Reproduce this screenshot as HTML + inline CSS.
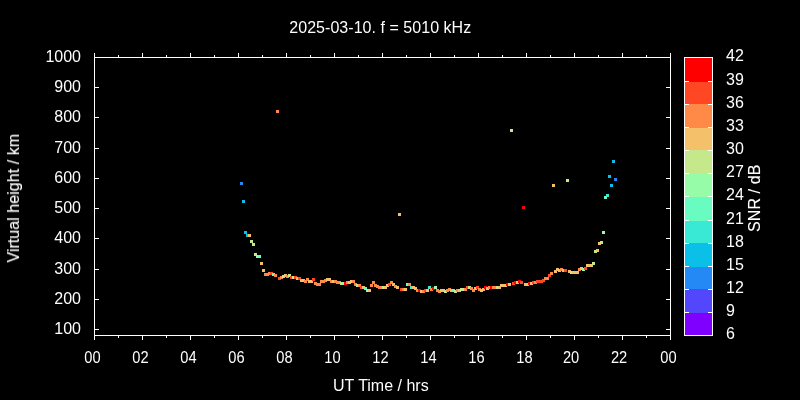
<!DOCTYPE html>
<html><head><meta charset="utf-8"><title>2025-03-10. f = 5010 kHz</title>
<style>
html,body{margin:0;padding:0;background:#000;overflow:hidden}
svg{display:block}
</style></head>
<body>
<svg width="800" height="400" viewBox="0 0 800 400">
<rect x="0" y="0" width="800" height="400" fill="#000"/>
<g shape-rendering="crispEdges"><rect x="94" y="53" width="1" height="287" fill="#fff"/><rect x="670" y="53" width="1" height="287" fill="#fff"/><rect x="94" y="57" width="577" height="1" fill="#fff"/><rect x="94" y="335" width="577" height="1" fill="#fff"/><rect x="118" y="55" width="1" height="2" fill="#fff"/><rect x="118" y="336" width="1" height="2" fill="#fff"/><rect x="142" y="53" width="1" height="4" fill="#fff"/><rect x="142" y="336" width="1" height="4" fill="#fff"/><rect x="166" y="55" width="1" height="2" fill="#fff"/><rect x="166" y="336" width="1" height="2" fill="#fff"/><rect x="190" y="53" width="1" height="4" fill="#fff"/><rect x="190" y="336" width="1" height="4" fill="#fff"/><rect x="214" y="55" width="1" height="2" fill="#fff"/><rect x="214" y="336" width="1" height="2" fill="#fff"/><rect x="238" y="53" width="1" height="4" fill="#fff"/><rect x="238" y="336" width="1" height="4" fill="#fff"/><rect x="262" y="55" width="1" height="2" fill="#fff"/><rect x="262" y="336" width="1" height="2" fill="#fff"/><rect x="286" y="53" width="1" height="4" fill="#fff"/><rect x="286" y="336" width="1" height="4" fill="#fff"/><rect x="310" y="55" width="1" height="2" fill="#fff"/><rect x="310" y="336" width="1" height="2" fill="#fff"/><rect x="334" y="53" width="1" height="4" fill="#fff"/><rect x="334" y="336" width="1" height="4" fill="#fff"/><rect x="358" y="55" width="1" height="2" fill="#fff"/><rect x="358" y="336" width="1" height="2" fill="#fff"/><rect x="382" y="53" width="1" height="4" fill="#fff"/><rect x="382" y="336" width="1" height="4" fill="#fff"/><rect x="406" y="55" width="1" height="2" fill="#fff"/><rect x="406" y="336" width="1" height="2" fill="#fff"/><rect x="430" y="53" width="1" height="4" fill="#fff"/><rect x="430" y="336" width="1" height="4" fill="#fff"/><rect x="454" y="55" width="1" height="2" fill="#fff"/><rect x="454" y="336" width="1" height="2" fill="#fff"/><rect x="478" y="53" width="1" height="4" fill="#fff"/><rect x="478" y="336" width="1" height="4" fill="#fff"/><rect x="502" y="55" width="1" height="2" fill="#fff"/><rect x="502" y="336" width="1" height="2" fill="#fff"/><rect x="526" y="53" width="1" height="4" fill="#fff"/><rect x="526" y="336" width="1" height="4" fill="#fff"/><rect x="550" y="55" width="1" height="2" fill="#fff"/><rect x="550" y="336" width="1" height="2" fill="#fff"/><rect x="574" y="53" width="1" height="4" fill="#fff"/><rect x="574" y="336" width="1" height="4" fill="#fff"/><rect x="598" y="55" width="1" height="2" fill="#fff"/><rect x="598" y="336" width="1" height="2" fill="#fff"/><rect x="622" y="53" width="1" height="4" fill="#fff"/><rect x="622" y="336" width="1" height="4" fill="#fff"/><rect x="646" y="55" width="1" height="2" fill="#fff"/><rect x="646" y="336" width="1" height="2" fill="#fff"/><rect x="95" y="329" width="4" height="1" fill="#fff"/><rect x="666" y="329" width="4" height="1" fill="#fff"/><rect x="95" y="299" width="4" height="1" fill="#fff"/><rect x="666" y="299" width="4" height="1" fill="#fff"/><rect x="95" y="269" width="4" height="1" fill="#fff"/><rect x="666" y="269" width="4" height="1" fill="#fff"/><rect x="95" y="238" width="4" height="1" fill="#fff"/><rect x="666" y="238" width="4" height="1" fill="#fff"/><rect x="95" y="208" width="4" height="1" fill="#fff"/><rect x="666" y="208" width="4" height="1" fill="#fff"/><rect x="95" y="178" width="4" height="1" fill="#fff"/><rect x="666" y="178" width="4" height="1" fill="#fff"/><rect x="95" y="148" width="4" height="1" fill="#fff"/><rect x="666" y="148" width="4" height="1" fill="#fff"/><rect x="95" y="117" width="4" height="1" fill="#fff"/><rect x="666" y="117" width="4" height="1" fill="#fff"/><rect x="95" y="87" width="4" height="1" fill="#fff"/><rect x="666" y="87" width="4" height="1" fill="#fff"/></g>
<g shape-rendering="crispEdges"><rect x="684" y="313" width="29" height="22" fill="#8000ff"/><rect x="684" y="289" width="29" height="24" fill="#5247fc"/><rect x="684" y="267" width="29" height="22" fill="#2489f5"/><rect x="684" y="243" width="29" height="24" fill="#0ac0e8"/><rect x="684" y="221" width="29" height="22" fill="#3ae8d6"/><rect x="684" y="197" width="29" height="24" fill="#68fcc1"/><rect x="684" y="174" width="29" height="23" fill="#96fca7"/><rect x="684" y="150" width="29" height="24" fill="#c4e88a"/><rect x="684" y="128" width="29" height="22" fill="#f4c069"/><rect x="684" y="104" width="29" height="24" fill="#ff8947"/><rect x="684" y="82" width="29" height="22" fill="#ff4724"/><rect x="684" y="58" width="29" height="24" fill="#ff0000"/><rect x="684" y="57" width="29" height="1" fill="#fff"/><rect x="684" y="335" width="29" height="1" fill="#fff"/><rect x="684" y="57" width="1" height="279" fill="#fff"/><rect x="712" y="57" width="1" height="279" fill="#fff"/><rect x="685" y="312" width="4" height="1" fill="#fff"/><rect x="708" y="312" width="4" height="1" fill="#fff"/><rect x="685" y="289" width="4" height="1" fill="#fff"/><rect x="708" y="289" width="4" height="1" fill="#fff"/><rect x="685" y="266" width="4" height="1" fill="#fff"/><rect x="708" y="266" width="4" height="1" fill="#fff"/><rect x="685" y="243" width="4" height="1" fill="#fff"/><rect x="708" y="243" width="4" height="1" fill="#fff"/><rect x="685" y="220" width="4" height="1" fill="#fff"/><rect x="708" y="220" width="4" height="1" fill="#fff"/><rect x="685" y="196" width="4" height="1" fill="#fff"/><rect x="708" y="196" width="4" height="1" fill="#fff"/><rect x="685" y="173" width="4" height="1" fill="#fff"/><rect x="708" y="173" width="4" height="1" fill="#fff"/><rect x="685" y="150" width="4" height="1" fill="#fff"/><rect x="708" y="150" width="4" height="1" fill="#fff"/><rect x="685" y="127" width="4" height="1" fill="#fff"/><rect x="708" y="127" width="4" height="1" fill="#fff"/><rect x="685" y="104" width="4" height="1" fill="#fff"/><rect x="708" y="104" width="4" height="1" fill="#fff"/><rect x="685" y="81" width="4" height="1" fill="#fff"/><rect x="708" y="81" width="4" height="1" fill="#fff"/></g>
<g opacity="0.999" fill="#fff" font-family="'Liberation Sans', sans-serif" font-size="16"><text x="81" y="334" text-anchor="end">100</text><text x="81" y="304" text-anchor="end">200</text><text x="81" y="274" text-anchor="end">300</text><text x="81" y="243" text-anchor="end">400</text><text x="81" y="213" text-anchor="end">500</text><text x="81" y="183" text-anchor="end">600</text><text x="81" y="153" text-anchor="end">700</text><text x="81" y="122" text-anchor="end">800</text><text x="81" y="92" text-anchor="end">900</text><text x="81" y="62" text-anchor="end">1000</text><text x="84.35" y="363" textLength="16.3" lengthAdjust="spacingAndGlyphs">00</text><text x="132.35" y="363" textLength="16.3" lengthAdjust="spacingAndGlyphs">02</text><text x="180.35" y="363" textLength="16.3" lengthAdjust="spacingAndGlyphs">04</text><text x="228.35" y="363" textLength="16.3" lengthAdjust="spacingAndGlyphs">06</text><text x="276.35" y="363" textLength="16.3" lengthAdjust="spacingAndGlyphs">08</text><text x="324.35" y="363" textLength="16.3" lengthAdjust="spacingAndGlyphs">10</text><text x="372.35" y="363" textLength="16.3" lengthAdjust="spacingAndGlyphs">12</text><text x="420.35" y="363" textLength="16.3" lengthAdjust="spacingAndGlyphs">14</text><text x="468.35" y="363" textLength="16.3" lengthAdjust="spacingAndGlyphs">16</text><text x="516.35" y="363" textLength="16.3" lengthAdjust="spacingAndGlyphs">18</text><text x="562.95" y="363" textLength="16.3" lengthAdjust="spacingAndGlyphs">20</text><text x="610.95" y="363" textLength="16.3" lengthAdjust="spacingAndGlyphs">22</text><text x="660.35" y="363" textLength="16.3" lengthAdjust="spacingAndGlyphs">00</text><text x="726" y="339">6</text><text x="726" y="316">9</text><text x="726" y="293">12</text><text x="726" y="270">15</text><text x="726" y="247">18</text><text x="726" y="224">21</text><text x="726" y="200">24</text><text x="726" y="177">27</text><text x="726" y="154">30</text><text x="726" y="131">33</text><text x="726" y="108">36</text><text x="726" y="85">39</text><text x="726" y="61">42</text><text x="289.3" y="33" textLength="181.9" lengthAdjust="spacing">2025-03-10. f = 5010 kHz</text><text x="380.8" y="390.8" text-anchor="middle">UT Time / hrs</text><text transform="translate(19,198.3) rotate(-90)" stroke="#fff" stroke-width="0.1" x="-64.3" textLength="128.6" lengthAdjust="spacing">Virtual height / km</text><text transform="translate(760,198.6) rotate(-90)" stroke="#fff" stroke-width="0.1" x="-33.34" textLength="67.3" lengthAdjust="spacing">SNR / dB</text></g>
<g shape-rendering="crispEdges"><rect x="240" y="182" width="3" height="3" fill="#2489f5"/><rect x="242" y="200" width="3" height="3" fill="#0ac0e8"/><rect x="244" y="231" width="3" height="3" fill="#0ac0e8"/><rect x="246" y="234" width="3" height="3" fill="#0ac0e8"/><rect x="248" y="234" width="3" height="3" fill="#f4c069"/><rect x="250" y="240" width="3" height="3" fill="#c4e88a"/><rect x="252" y="243" width="3" height="3" fill="#c4e88a"/><rect x="254" y="253" width="3" height="3" fill="#c4e88a"/><rect x="256" y="255" width="3" height="3" fill="#96fca7"/><rect x="258" y="255" width="3" height="3" fill="#68fcc1"/><rect x="260" y="262" width="3" height="3" fill="#f4c069"/><rect x="262" y="269" width="3" height="3" fill="#f4c069"/><rect x="264" y="273" width="3" height="3" fill="#ff8947"/><rect x="266" y="273" width="3" height="3" fill="#ff8947"/><rect x="268" y="272" width="3" height="3" fill="#ff8947"/><rect x="270" y="272" width="3" height="3" fill="#ff4724"/><rect x="272" y="273" width="3" height="3" fill="#68fcc1"/><rect x="274" y="274" width="3" height="3" fill="#ff8947"/><rect x="276" y="110" width="3" height="3" fill="#ff8947"/><rect x="278" y="277" width="3" height="3" fill="#ff4724"/><rect x="280" y="276" width="3" height="3" fill="#ff8947"/><rect x="282" y="275" width="3" height="3" fill="#c4e88a"/><rect x="284" y="274" width="3" height="3" fill="#f4c069"/><rect x="286" y="275" width="3" height="3" fill="#ff8947"/><rect x="288" y="274" width="3" height="3" fill="#c4e88a"/><rect x="290" y="276" width="3" height="3" fill="#ff4724"/><rect x="292" y="276" width="3" height="3" fill="#c4e88a"/><rect x="294" y="276" width="3" height="3" fill="#ff4724"/><rect x="296" y="277" width="3" height="3" fill="#f4c069"/><rect x="298" y="277" width="3" height="3" fill="#ff4724"/><rect x="300" y="279" width="3" height="3" fill="#f4c069"/><rect x="302" y="279" width="3" height="3" fill="#f4c069"/><rect x="304" y="280" width="3" height="3" fill="#ff8947"/><rect x="306" y="278" width="3" height="3" fill="#ff8947"/><rect x="308" y="280" width="3" height="3" fill="#f4c069"/><rect x="310" y="280" width="3" height="3" fill="#f4c069"/><rect x="312" y="278" width="3" height="3" fill="#ff4724"/><rect x="314" y="282" width="3" height="3" fill="#ff8947"/><rect x="316" y="283" width="3" height="3" fill="#ff8947"/><rect x="318" y="283" width="3" height="3" fill="#ff8947"/><rect x="320" y="280" width="3" height="3" fill="#ff8947"/><rect x="322" y="280" width="3" height="3" fill="#ff8947"/><rect x="324" y="279" width="3" height="3" fill="#ff8947"/><rect x="326" y="278" width="3" height="3" fill="#f4c069"/><rect x="328" y="278" width="3" height="3" fill="#f4c069"/><rect x="330" y="280" width="3" height="3" fill="#ff8947"/><rect x="332" y="280" width="3" height="3" fill="#f4c069"/><rect x="334" y="280" width="3" height="3" fill="#ff8947"/><rect x="336" y="281" width="3" height="3" fill="#ff8947"/><rect x="338" y="281" width="3" height="3" fill="#ff8947"/><rect x="340" y="282" width="3" height="3" fill="#c4e88a"/><rect x="342" y="282" width="3" height="3" fill="#96fca7"/><rect x="344" y="282" width="3" height="3" fill="#ff0000"/><rect x="346" y="281" width="3" height="3" fill="#ff8947"/><rect x="348" y="281" width="3" height="3" fill="#f4c069"/><rect x="350" y="280" width="3" height="3" fill="#f4c069"/><rect x="352" y="280" width="3" height="3" fill="#ff8947"/><rect x="354" y="283" width="3" height="3" fill="#ff8947"/><rect x="356" y="284" width="3" height="3" fill="#c4e88a"/><rect x="358" y="284" width="3" height="3" fill="#ff8947"/><rect x="360" y="286" width="3" height="3" fill="#ff4724"/><rect x="362" y="286" width="3" height="3" fill="#f4c069"/><rect x="364" y="287" width="3" height="3" fill="#68fcc1"/><rect x="366" y="289" width="3" height="3" fill="#96fca7"/><rect x="368" y="289" width="3" height="3" fill="#f4c069"/><rect x="370" y="284" width="3" height="3" fill="#ff8947"/><rect x="372" y="281" width="3" height="3" fill="#ff8947"/><rect x="374" y="284" width="3" height="3" fill="#ff8947"/><rect x="376" y="285" width="3" height="3" fill="#ff8947"/><rect x="378" y="286" width="3" height="3" fill="#ff8947"/><rect x="380" y="286" width="3" height="3" fill="#ff8947"/><rect x="382" y="286" width="3" height="3" fill="#c4e88a"/><rect x="384" y="286" width="3" height="3" fill="#f4c069"/><rect x="386" y="284" width="3" height="3" fill="#f4c069"/><rect x="388" y="283" width="3" height="3" fill="#ff4724"/><rect x="390" y="281" width="3" height="3" fill="#ff8947"/><rect x="392" y="283" width="3" height="3" fill="#f4c069"/><rect x="394" y="285" width="3" height="3" fill="#ff8947"/><rect x="396" y="286" width="3" height="3" fill="#f4c069"/><rect x="398" y="213" width="3" height="3" fill="#f4c069"/><rect x="400" y="288" width="3" height="3" fill="#ff4724"/><rect x="402" y="288" width="3" height="3" fill="#ff8947"/><rect x="404" y="288" width="3" height="3" fill="#f4c069"/><rect x="406" y="283" width="3" height="3" fill="#68fcc1"/><rect x="408" y="283" width="3" height="3" fill="#ff8947"/><rect x="410" y="286" width="3" height="3" fill="#3ae8d6"/><rect x="412" y="286" width="3" height="3" fill="#f4c069"/><rect x="414" y="287" width="3" height="3" fill="#f4c069"/><rect x="416" y="289" width="3" height="3" fill="#ff8947"/><rect x="418" y="289" width="3" height="3" fill="#ff0000"/><rect x="420" y="290" width="3" height="3" fill="#f4c069"/><rect x="422" y="290" width="3" height="3" fill="#ff8947"/><rect x="424" y="289" width="3" height="3" fill="#ff4724"/><rect x="426" y="289" width="3" height="3" fill="#f4c069"/><rect x="428" y="286" width="3" height="3" fill="#3ae8d6"/><rect x="430" y="288" width="3" height="3" fill="#ff8947"/><rect x="432" y="287" width="3" height="3" fill="#ff0000"/><rect x="434" y="286" width="3" height="3" fill="#96fca7"/><rect x="436" y="289" width="3" height="3" fill="#ff8947"/><rect x="438" y="290" width="3" height="3" fill="#ff8947"/><rect x="440" y="289" width="3" height="3" fill="#f4c069"/><rect x="442" y="289" width="3" height="3" fill="#f4c069"/><rect x="444" y="290" width="3" height="3" fill="#c4e88a"/><rect x="446" y="289" width="3" height="3" fill="#ff8947"/><rect x="448" y="288" width="3" height="3" fill="#ff8947"/><rect x="450" y="289" width="3" height="3" fill="#f4c069"/><rect x="452" y="289" width="3" height="3" fill="#68fcc1"/><rect x="454" y="290" width="3" height="3" fill="#c4e88a"/><rect x="456" y="289" width="3" height="3" fill="#ff8947"/><rect x="458" y="289" width="3" height="3" fill="#f4c069"/><rect x="460" y="288" width="3" height="3" fill="#c4e88a"/><rect x="462" y="288" width="3" height="3" fill="#c4e88a"/><rect x="464" y="288" width="3" height="3" fill="#ff8947"/><rect x="466" y="286" width="3" height="3" fill="#ff4724"/><rect x="468" y="286" width="3" height="3" fill="#c4e88a"/><rect x="470" y="287" width="3" height="3" fill="#ff8947"/><rect x="472" y="289" width="3" height="3" fill="#ff8947"/><rect x="474" y="287" width="3" height="3" fill="#f4c069"/><rect x="476" y="286" width="3" height="3" fill="#ff4724"/><rect x="478" y="288" width="3" height="3" fill="#ff8947"/><rect x="480" y="289" width="3" height="3" fill="#f4c069"/><rect x="482" y="288" width="3" height="3" fill="#f4c069"/><rect x="484" y="286" width="3" height="3" fill="#ff0000"/><rect x="486" y="287" width="3" height="3" fill="#f4c069"/><rect x="488" y="286" width="3" height="3" fill="#ff8947"/><rect x="490" y="286" width="3" height="3" fill="#ff0000"/><rect x="492" y="286" width="3" height="3" fill="#ff8947"/><rect x="494" y="286" width="3" height="3" fill="#ff8947"/><rect x="496" y="286" width="3" height="3" fill="#c4e88a"/><rect x="498" y="286" width="3" height="3" fill="#f4c069"/><rect x="500" y="284" width="3" height="3" fill="#f4c069"/><rect x="502" y="284" width="3" height="3" fill="#f4c069"/><rect x="504" y="284" width="3" height="3" fill="#f4c069"/><rect x="506" y="283" width="3" height="3" fill="#ff0000"/><rect x="508" y="283" width="3" height="3" fill="#f4c069"/><rect x="510" y="129" width="3" height="3" fill="#c4e88a"/><rect x="512" y="282" width="3" height="3" fill="#ff4724"/><rect x="514" y="281" width="3" height="3" fill="#ff0000"/><rect x="516" y="281" width="3" height="3" fill="#f4c069"/><rect x="518" y="280" width="3" height="3" fill="#ff0000"/><rect x="520" y="281" width="3" height="3" fill="#ff4724"/><rect x="522" y="206" width="3" height="3" fill="#ff0000"/><rect x="524" y="283" width="3" height="3" fill="#f4c069"/><rect x="526" y="283" width="3" height="3" fill="#f4c069"/><rect x="528" y="282" width="3" height="3" fill="#ff0000"/><rect x="530" y="282" width="3" height="3" fill="#f4c069"/><rect x="532" y="281" width="3" height="3" fill="#ff4724"/><rect x="534" y="281" width="3" height="3" fill="#ff8947"/><rect x="536" y="280" width="3" height="3" fill="#ff4724"/><rect x="538" y="280" width="3" height="3" fill="#ff4724"/><rect x="540" y="280" width="3" height="3" fill="#ff4724"/><rect x="542" y="279" width="3" height="3" fill="#ff4724"/><rect x="544" y="277" width="3" height="3" fill="#ff8947"/><rect x="546" y="277" width="3" height="3" fill="#ff8947"/><rect x="548" y="274" width="3" height="3" fill="#ff4724"/><rect x="550" y="272" width="3" height="3" fill="#ff8947"/><rect x="552" y="184" width="3" height="3" fill="#f4c069"/><rect x="554" y="270" width="3" height="3" fill="#f4c069"/><rect x="556" y="268" width="3" height="3" fill="#f4c069"/><rect x="558" y="269" width="3" height="3" fill="#f4c069"/><rect x="560" y="268" width="3" height="3" fill="#ff8947"/><rect x="562" y="269" width="3" height="3" fill="#f4c069"/><rect x="564" y="269" width="3" height="3" fill="#ff4724"/><rect x="566" y="179" width="3" height="3" fill="#c4e88a"/><rect x="568" y="270" width="3" height="3" fill="#f4c069"/><rect x="570" y="271" width="3" height="3" fill="#c4e88a"/><rect x="572" y="271" width="3" height="3" fill="#f4c069"/><rect x="574" y="271" width="3" height="3" fill="#f4c069"/><rect x="576" y="271" width="3" height="3" fill="#f4c069"/><rect x="578" y="268" width="3" height="3" fill="#ff8947"/><rect x="580" y="267" width="3" height="3" fill="#f4c069"/><rect x="582" y="268" width="3" height="3" fill="#96fca7"/><rect x="584" y="267" width="3" height="3" fill="#ff4724"/><rect x="586" y="264" width="3" height="3" fill="#f4c069"/><rect x="588" y="264" width="3" height="3" fill="#f4c069"/><rect x="590" y="264" width="3" height="3" fill="#f4c069"/><rect x="592" y="262" width="3" height="3" fill="#c4e88a"/><rect x="594" y="250" width="3" height="3" fill="#c4e88a"/><rect x="596" y="249" width="3" height="3" fill="#f4c069"/><rect x="598" y="242" width="3" height="3" fill="#f4c069"/><rect x="600" y="241" width="3" height="3" fill="#c4e88a"/><rect x="602" y="231" width="3" height="3" fill="#96fca7"/><rect x="604" y="196" width="3" height="3" fill="#68fcc1"/><rect x="606" y="194" width="3" height="3" fill="#3ae8d6"/><rect x="608" y="175" width="3" height="3" fill="#0ac0e8"/><rect x="610" y="184" width="3" height="3" fill="#0ac0e8"/><rect x="612" y="160" width="3" height="3" fill="#0ac0e8"/><rect x="614" y="178" width="3" height="3" fill="#2489f5"/></g>
</svg>
</body></html>
